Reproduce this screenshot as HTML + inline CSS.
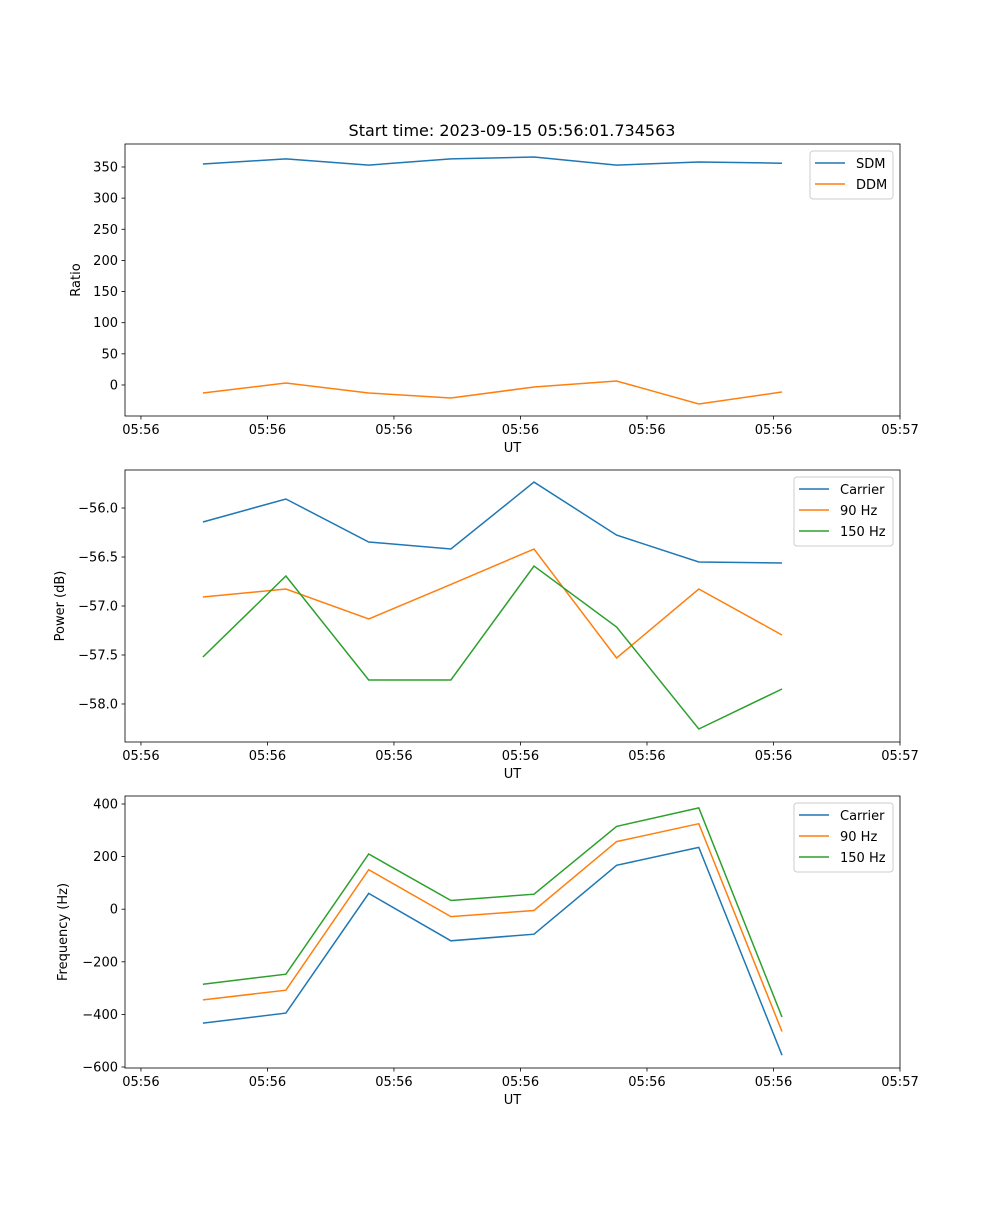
<!DOCTYPE html>
<html><head><meta charset="utf-8"><style>
html,body{margin:0;padding:0;background:#fff;}
svg text{font-family:"DejaVu Sans","Liberation Sans",sans-serif;fill:#000;}
</style></head><body>
<svg id="fig" width="1000" height="1200" xmlns="http://www.w3.org/2000/svg">
<text x="512" y="136" font-size="16" text-anchor="middle">Start time: 2023-09-15 05:56:01.734563</text>
</svg>
<script>
const xTickLabels = ["05:56","05:56","05:56","05:56","05:56","05:56","05:57"];
const xValues = [0.49,1.146,1.80,2.45,3.107,3.76,4.41,5.067];
const sdm = [354.8,363,353,363,366,353,358,356];
const ddm = [-12.8,3.2,-12.8,-20.9,-3.2,6.4,-30.5,-11.2];
const pCarrier = [-56.143,-55.908,-56.347,-56.418,-55.735,-56.276,-56.551,-56.561];
const p90 = [-56.908,-56.827,-57.133,-56.78,-56.418,-57.531,-56.827,-57.296];
const p150 = [-57.520,-56.694,-57.755,-57.755,-56.592,-57.214,-58.255,-57.847];
const fCarrier = [-433,-395,60,-120,-95,167,235,-555];
const f90 = [-345,-308,150,-28,-5,257,325,-465];
const f150 = [-285,-247,210,33,57,315,385,-410];
const yTicks1 = [0,50,100,150,200,250,300,350];
const yTicks2 = [-58.0,-57.5,-57.0,-56.5,-56.0];
const yTicks3 = [-600,-400,-200,0,200,400];

const NS="http://www.w3.org/2000/svg";
const svg=document.getElementById('fig');
function mk(tag,attrs,parent){const e=document.createElementNS(NS,tag);for(const k in attrs)e.setAttribute(k,attrs[k]);(parent||svg).appendChild(e);return e;}
const L=125,R=900,xMin=-0.126,xMax=6.0;
function sx(v){return L+(v-xMin)/(xMax-xMin)*(R-L);}
const C=['#1f77b4','#ff7f0e','#2ca02c'];

function panel(name,top,bottom,yMin,yMax,yTicks,fmt,ylabel,series,labels,legend){
  const g=mk('g',{});
  
  
  const sy=v=>bottom-(v-yMin)/(yMax-yMin)*(bottom-top);
  series.forEach((s,i)=>{
    const pts=s.map((v,j)=>sx(xValues[j]).toFixed(1)+','+sy(v).toFixed(1)).join(' ');
    const pl=mk('polyline',{points:pts,fill:'none',stroke:C[i],'stroke-width':1.5},g);
    
    
  });
  const fr=mk('rect',{x:L,y:top,width:R-L,height:bottom-top,fill:'none',stroke:'#000','stroke-width':0.8},g);
  
  
  xTickLabels.forEach((t,i)=>{
    const x=sx(i);
    mk('line',{x1:x,y1:bottom,x2:x,y2:bottom+3.5,stroke:'#000','stroke-width':0.8},g);
    const tx=mk('text',{x:x,y:bottom+18,'font-size':13,'text-anchor':'middle'},g);
    tx.textContent=t;
    
    
  });
  yTicks.forEach(v=>{
    const y=sy(v);
    mk('line',{x1:L,y1:y,x2:L-3.5,y2:y,stroke:'#000','stroke-width':0.8},g);
    const tx=mk('text',{x:L-7,y:y+4.5,'font-size':13,'text-anchor':'end'},g);
    tx.textContent=fmt(v);
    
    
  });
  const xl=mk('text',{x:(L+R)/2,y:bottom+36,'font-size':13,'text-anchor':'middle'},g);
  xl.textContent='UT';
  
  
  const yl=mk('text',{x:0,y:0,'font-size':13,'text-anchor':'middle',transform:`translate(${legend.yl},${(top+bottom)/2}) rotate(-90)`},g);
  yl.textContent=ylabel;
  
  
  const lg=mk('g',{},g);
  
  
  const h=labels.length*21+6;
  mk('rect',{x:legend.x,y:top+7,width:893-legend.x,height:h,rx:3,fill:'#fff',stroke:'#ccc','stroke-width':1},lg);
  labels.forEach((lab,i)=>{
    const y=top+19+i*21;
    mk('line',{x1:legend.x+5,y1:y,x2:legend.x+35,y2:y,stroke:C[i],'stroke-width':1.5},lg);
    const t=mk('text',{x:legend.x+46,y:y+5,'font-size':13},lg);
    t.textContent=lab;
    
    
  });
}
const m='\u2212';
panel('ratio-panel',144,416,-49.8,386.9,yTicks1,v=>String(v),'Ratio',[sdm,ddm],['SDM','DDM'],{x:810,yl:80});
panel('power-panel',470,742,-58.388,-55.612,yTicks2,v=>(v<0?m:'')+Math.abs(v).toFixed(1),'Power (dB)',[pCarrier,p90,p150],['Carrier','90 Hz','150 Hz'],{x:794,yl:64});
panel('frequency-panel',796,1068,-603.8,430.4,yTicks3,v=>(v<0?m:'')+Math.abs(v),'Frequency (Hz)',[fCarrier,f90,f150],['Carrier','90 Hz','150 Hz'],{x:794,yl:67});
</script>
</body></html>
